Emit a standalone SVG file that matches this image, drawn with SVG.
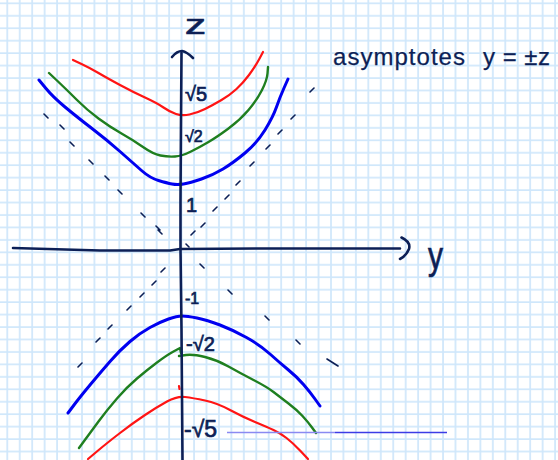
<svg xmlns="http://www.w3.org/2000/svg" width="558" height="460" viewBox="0 0 558 460">
<style>
.ink{fill:none;stroke:#0c1f56;stroke-linecap:round;stroke-linejoin:round}
.axis{stroke-width:2.6}
.dash{stroke-width:1.6}
.curve{fill:none;stroke-linecap:round;stroke-linejoin:round}
.red{stroke:#ff1414;stroke-width:2.2}
.green{stroke:#1f7f1f;stroke-width:2.4}
.blue{stroke:#0000f0;stroke-width:3}
.lbl{fill:#0c1f56;stroke:#0c1f56;stroke-width:0.7;font-family:"Liberation Sans","DejaVu Sans",sans-serif}
.note{fill:#0c1f56;stroke:#0c1f56;stroke-width:0.25;font-family:"Liberation Sans","DejaVu Sans",sans-serif;font-size:24px}
</style>
<defs>
<pattern id="grid" patternUnits="userSpaceOnUse" x="6.3" y="2.3" width="12.45" height="12.45">
<path d="M1 0V12.45M0 1H12.45" stroke="#cfe7fb" stroke-width="1.7" fill="none"/>
</pattern>
</defs>
<rect width="558" height="460" fill="#ffffff"/>
<rect width="558" height="460" fill="url(#grid)"/>

<g id="asymptotes">
<path class="ink dash" d="M44 114L48 118M60 125L64 129M70 142L74 146M89 160L93 164M105 176L109 180M118 190L122 194M141 213L145 217M156 226L160 230M158 230L162 234
M201 227L205 223M213 211L217 207M225 199L229 195M236 185L240 181M250 166L254 162M266 149L270 145M278 134L282 130M291 119L295 115M310 92L314 88M191 235L195 231
M165 268L161 272M156 281L152 285M144 293L140 297M131 306L127 310M112 325L108 329M100 338L96 342M82 363L78 367
M186 244L189 247M200 264L204 268M228 290L232 294M265 316L269 320M296 340L300 344M327 359L338 366"/>
</g>

<g id="curves-upper">
<path class="curve red" d="M73 60L81.5 64Q90 68 98.5 73Q107 78 120 85Q133 92 145 97.5Q157 103 163.5 107.5Q170 112 176 114Q182 116 189.5 114.5Q197 113 205 109Q213 105 221.5 100Q230 95 236.5 89Q243 83 249 75Q255 67 259 59.5L263 52"/>
<path class="curve green" d="M49 73L58 81.5Q67 90 77 100Q87 110 98.5 118.5Q110 127 121.5 133.5Q133 140 143 147Q153 154 160.5 155.5Q168 157 175 156.5Q182 156 191 151.5Q200 147 208.5 142Q217 137 228.5 128.5Q240 120 248.5 110Q257 100 262 90Q267 80 267.5 73.5L268 67"/>
<path class="curve blue" d="M39 80L46 88.5Q53 97 65 107Q77 117 92 128.5Q107 140 120 151.5Q133 163 141.5 170.5Q150 178 158.5 180.5Q167 183 172 184Q177 185 183.5 184Q190 183 201.5 179Q213 175 223 169Q233 163 245 153Q257 143 265 130Q273 117 276.5 107Q280 97 284 88L288 79"/>
</g>

<g id="curves-lower">
<path class="curve blue" d="M68 413L74 405Q80 397 90 385Q100 373 110 361.5Q120 350 130 341.5Q140 333 150 327.5Q160 322 168.5 319Q177 316 182 316Q187 316 197 318Q207 320 220 325Q233 330 246.5 337.5Q260 345 270 354Q280 363 288.5 370Q297 377 303.5 384.5Q310 392 315 399L320 406"/>
<path class="curve green" d="M79 448L84.5 440.5Q90 433 98.5 421.5Q107 410 117 398.5Q127 387 137 378.5Q147 370 157 362.5Q167 355 173.5 351.5L180 348L181 353M179 356L186 355Q193 354 205 357Q217 360 228.5 366.5Q240 373 253.5 380Q267 387 273.5 392Q280 397 288.5 403.5Q297 410 302.5 416Q308 422 312 427.5L316 433"/>
<path class="curve red" d="M88 459L97.5 451Q107 443 120 433Q133 423 145 415Q157 407 167 401.5Q177 396 185 397Q193 398 205 400.5Q217 403 230 410Q243 417 255 422Q267 427 273.5 430Q280 433 286.5 438Q293 443 300.5 451L308 459M179 386L179.5 389"/>
</g>

<g id="baseline-line">
<path d="M227 432.5H335" stroke="#8a8af2" stroke-width="1.6" fill="none"/>
<path d="M335 432.5H447" stroke="#3c3ce6" stroke-width="1.5" fill="none"/>
</g>

<g id="axes">
<path class="ink axis" d="M181.5 53L181 120L180.5 200L180.5 249L181.5 330L182.5 460"/>
<path class="ink axis" d="M172 57Q177 51 182 51Q187 52 193 58"/>
<path class="ink axis" d="M13 248L100 250.5L170 250.5L180 249L260 248.5L400 248.5"/>
<path class="ink axis" d="M401.5 237.5Q411 242 409 249Q406 256 400 259"/>
</g>

<g id="labels">
<text class="lbl" x="185" y="34" font-size="27" textLength="21" lengthAdjust="spacingAndGlyphs">z</text>
<text class="lbl" x="428" y="269" font-size="38" textLength="15" lengthAdjust="spacingAndGlyphs">y</text>
<text class="note" x="333" y="65" textLength="132" lengthAdjust="spacing">asymptotes</text>
<text class="note" x="483" y="65" textLength="67" lengthAdjust="spacing">y = ±z</text>
<text class="lbl" x="185" y="101" font-size="20">√5</text>
<text class="lbl" x="185" y="142" font-size="16">√2</text>
<text class="lbl" x="186" y="212" font-size="20">1</text>
<text class="lbl" x="185" y="304" font-size="16">-1</text>
<text class="lbl" x="186" y="351" font-size="20">-√2</text>
<text class="lbl" x="184" y="437" font-size="23">-√5</text>
</g>
</svg>
